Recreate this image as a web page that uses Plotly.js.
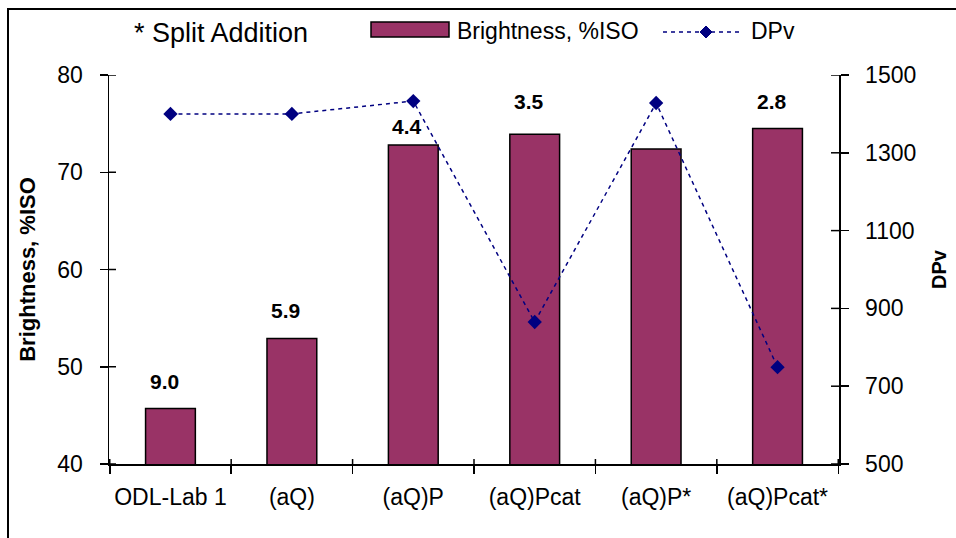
<!DOCTYPE html>
<html>
<head>
<meta charset="utf-8">
<script src="https://cdn.plot.ly/plotly-3.0.1.min.js"></script>
<style>html,body{margin:0;padding:0;background:#fff;}#chart{width:956px;height:538px;}</style>
</head>
<body>
<div id="chart"></div>
<script>
const categories = ['ODL-Lab 1', '(aQ)', '(aQ)P', '(aQ)Pcat', '(aQ)P*', '(aQ)Pcat*'];
const brightness = [45.7, 52.9, 72.8, 73.9, 72.4, 74.5];
const dpv = [1400, 1400, 1433, 865, 1428, 749];
const kappaLabels = ['9.0', '5.9', '4.4', '3.5', '4.2', '2.8'];
const kappaLabelY = [48.5, 55.8, 74.7, 77.3, 80.2, 77.3];
const brightTicks = [40, 50, 60, 70, 80];
const dpvTicks = [500, 700, 900, 1100, 1300, 1500];
const seriesNames = ['Brightness, %ISO', 'DPv'];
const noteText = '* Split Addition';

const FONT = 'Liberation Sans, Arial, sans-serif';
const PLUM = '#993366';
const NAVY = '#000080';

const traces = [
  {
    type: 'bar', name: seriesNames[0], x: categories, y: brightness,
    marker: {color: PLUM, line: {color: '#000000', width: 1.5}},
    xaxis: 'x', yaxis: 'y', hoverinfo: 'skip'
  },
  {
    type: 'scatter', mode: 'lines+markers', name: seriesNames[1], x: categories, y: dpv,
    line: {color: NAVY, width: 1.5, dash: '4px,4px'},
    marker: {symbol: 'diamond', size: 11, color: NAVY},
    xaxis: 'x', yaxis: 'y2', hoverinfo: 'skip'
  }
];

// helpers: pixel -> paper (plot area spans x 109..839, y 75..464)
const PX = p => (p - 109) / 730;
const PY = p => (464 - p) / 389;

const annotations = categories.map((c, i) => ({
  x: c, y: kappaLabelY[i], xref: 'x', yref: 'y', text: kappaLabels[i],
  showarrow: false, xshift: -6,
  font: {family: FONT, size: 21, color: '#000', weight: 'bold'}
}));
annotations.push(
  {xref: 'paper', yref: 'paper', x: PX(132), y: PY(33), xanchor: 'left', yanchor: 'middle',
   text: noteText, showarrow: false, font: {family: FONT, size: 27, color: '#000'}},
  {xref: 'paper', yref: 'paper', x: PX(455), y: PY(31), xanchor: 'left', yanchor: 'middle',
   text: seriesNames[0], showarrow: false, font: {family: FONT, size: 23, color: '#000'}},
  {xref: 'paper', yref: 'paper', x: PX(749), y: PY(31), xanchor: 'left', yanchor: 'middle',
   text: seriesNames[1], showarrow: false, font: {family: FONT, size: 23, color: '#000'}}
);

// inner halves of the crossing tick marks
const tickLine = {color: '#000', width: 1.5};
const innerTicks = [];
brightTicks.forEach(v => innerTicks.push({
  type: 'line', xref: 'paper', yref: 'y', xsizemode: 'pixel', xanchor: 0,
  x0: 0, x1: 7, y0: v, y1: v, line: tickLine
}));
dpvTicks.forEach(v => innerTicks.push({
  type: 'line', xref: 'paper', yref: 'y2', xsizemode: 'pixel', xanchor: 1,
  x0: -8, x1: 0, y0: v, y1: v, line: tickLine
}));
categories.concat(['']).forEach((c, i) => innerTicks.push({
  type: 'line', xref: 'x', yref: 'paper', ysizemode: 'pixel', yanchor: 0,
  x0: i - 0.5, x1: i - 0.5, y0: 0, y1: 5, line: tickLine
}));

const layout = {
  width: 956, height: 538,
  margin: {l: 109, r: 117, t: 75, b: 74},
  paper_bgcolor: '#fff', plot_bgcolor: '#fff',
  font: {family: FONT, size: 23, color: '#000'},
  bargap: 0.59,
  showlegend: false,
  xaxis: {
    type: 'category', showline: true, linecolor: '#000', linewidth: 1.5,
    ticks: 'outside', tickson: 'boundaries', ticklen: 8, tickwidth: 1.5, tickcolor: '#000',
    ticklabelstandoff: 12, tickangle: 0, showgrid: false, zeroline: false,
    tickfont: {family: FONT, size: 23}
  },
  yaxis: {
    range: [40, 80], tickvals: brightTicks, showline: true, linecolor: '#000', linewidth: 1.5,
    ticks: 'outside', ticklen: 8, tickwidth: 1.5, tickcolor: '#000', ticklabelstandoff: 12,
    showgrid: false, zeroline: false, tickfont: {family: FONT, size: 23},
    title: {text: seriesNames[0], standoff: 15, font: {family: FONT, size: 22, weight: 'bold'}}
  },
  yaxis2: {
    range: [500, 1500], tickvals: dpvTicks, overlaying: 'y', side: 'right', anchor: 'x',
    showline: true, linecolor: '#000', linewidth: 1.5,
    ticks: 'outside', ticklen: 8, tickwidth: 1.5, tickcolor: '#000', ticklabelstandoff: 12,
    showgrid: false, zeroline: false, tickfont: {family: FONT, size: 23},
    title: {text: seriesNames[1], standoff: 16, font: {family: FONT, size: 20, weight: 'bold'}}
  },
  annotations: annotations,
  shapes: [
    // outer frame
    {type: 'rect', xref: 'paper', yref: 'paper', x0: PX(8), x1: PX(980), y0: PY(560), y1: PY(9),
     line: {color: '#000', width: 2}, fillcolor: 'rgba(0,0,0,0)', layer: 'below'},
    // legend: bar swatch
    {type: 'rect', xref: 'paper', yref: 'paper', x0: PX(371), x1: PX(449), y0: PY(37), y1: PY(22),
     line: {color: '#000', width: 1.5}, fillcolor: PLUM},
    // legend: line swatch
    {type: 'line', xref: 'paper', yref: 'paper', x0: PX(663), x1: PX(743), y0: PY(32), y1: PY(32),
     line: {color: NAVY, width: 1.5, dash: '4px,4px'}},
    // legend: diamond marker
    {type: 'path', xref: 'paper', yref: 'paper', xsizemode: 'pixel', ysizemode: 'pixel',
     xanchor: PX(706), yanchor: PY(32), path: 'M0,6L6,0L0,-6L-6,0Z',
     fillcolor: NAVY, line: {color: NAVY, width: 1}}
  ].concat(innerTicks)
};

Plotly.newPlot('chart', traces, layout, {displayModeBar: false, staticPlot: true});
</script>
</body>
</html>
